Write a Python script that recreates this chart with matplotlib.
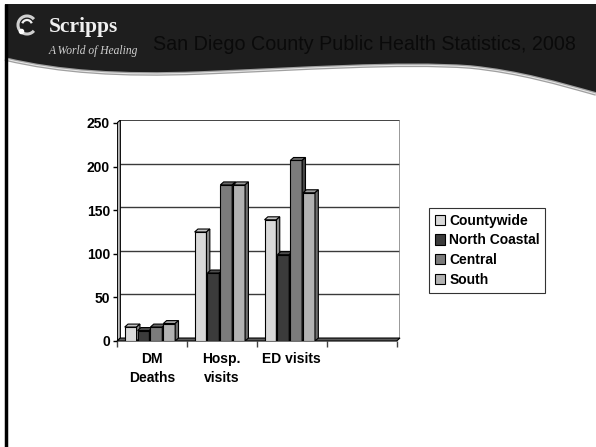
import matplotlib
matplotlib.use("Agg")
from matplotlib import pyplot as plt
from matplotlib.patches import Polygon, Patch, Arc, PathPatch
from matplotlib.path import Path

plt.rcParams['font.family'] = ['Liberation Sans', 'DejaVu Sans']

# data
categories = ["DM\nDeaths", "Hosp.\nvisits", "ED visits", ""]
regions = ["Countywide", "North Coastal", "Central", "South"]
countywide = [16, 125, 139]
north_coastal = [12, 78, 99]
central = [16, 179, 207]
south = [20, 179, 170]
series = [countywide, north_coastal, central, south]

front_cols = ["#d9d9d9", "#3b3b3b", "#7b7b7b", "#b2b2b2"]
top_cols = ["#c4c4c4", "#4e4e4e", "#6a6a6a", "#9e9e9e"]
side_cols = ["#8a8a8a", "#262626", "#474747", "#6e6e6e"]

W, H = 596, 447
fig = plt.figure(figsize=(W / 100, H / 100), dpi=100)
fig.patch.set_facecolor("white")

# ---- slide background / header in pixel coordinates
bg = fig.add_axes([0, 0, 1, 1])
bg.set_xlim(0, W)
bg.set_ylim(H, 0)
bg.axis("off")

verts = [(5, 4), (W, 4), (W, 94),
         (560, 84), (520, 72), (470, 67),
         (400, 62), (300, 69), (200, 73),
         (120, 76), (60, 72), (5, 59), (5, 4)]
codes = [Path.MOVETO, Path.LINETO, Path.LINETO,
         Path.CURVE4, Path.CURVE4, Path.CURVE4,
         Path.CURVE4, Path.CURVE4, Path.CURVE4,
         Path.CURVE4, Path.CURVE4, Path.CURVE4, Path.CLOSEPOLY]
bg.add_patch(PathPatch(Path(verts, codes), facecolor="#1e1e1e", edgecolor="none"))

edge_verts = [(5, 59), (60, 72), (120, 76), (200, 73),
              (300, 69), (400, 62), (470, 67),
              (520, 72), (560, 84), (W, 94)]
edge_codes = [Path.MOVETO] + [Path.CURVE4] * 9
bg.add_patch(PathPatch(Path(edge_verts, edge_codes), facecolor="none",
                       edgecolor="#a0a0a0", lw=2.6))
bg.add_patch(PathPatch(Path(edge_verts, edge_codes), facecolor="none",
                       edgecolor="#e6e6e6", lw=0.8))

# left frame
bg.plot([6, 6], [4, H], color="black", lw=2.5, solid_capstyle="butt")

# logo
bg.add_patch(Arc((27, 25), 18, 18, theta1=40, theta2=320, color="#d0d0d0", lw=2.2))
bg.add_patch(Arc((27, 25), 10, 10, theta1=200, theta2=340, color="#f0f0f0", lw=1.6))
bg.plot([21], [31], "o", color="white", ms=3)
bg.text(49, 32, "Scripps", color="#f0f0f0", fontsize=15.5, fontweight="bold",
        family=["Liberation Serif", "DejaVu Serif"], va="baseline")
bg.text(49, 51, "A World of Healing", color="#d0d0d0", fontsize=8.3,
        family=["Liberation Serif", "DejaVu Serif"], style="italic", va="center")

bg.text(153, 44, "San Diego County Public Health Statistics, 2008",
        color="#0a0a0a", fontsize=14.2, va="center")

# ---- 3D-style column chart
dx, dy = 0.048, 3.4
px_l, px_r, px_t, px_b = 117, 400, 120, 341
ax = fig.add_axes([px_l / W, 1 - px_b / H, (px_r - px_l) / W, (px_b - px_t) / H])
ax.set_xlim(0, len(categories) + dx)
ax.set_ylim(0, 250 + dy)
ax.set_facecolor("white")
for s in ax.spines.values():
    s.set_visible(False)

# back wall gridlines and border
for v in [50, 100, 150, 200]:
    ax.plot([dx, len(categories) + dx], [v + dy, v + dy], color="#3a3a3a", lw=1, zorder=1)
ax.plot([dx, len(categories) + dx], [250 + dy, 250 + dy], color="#222222", lw=1.2, zorder=1)
ax.plot([len(categories) + dx] * 2, [dy, 250 + dy], color="#888888", lw=1.2, zorder=1)

# left wall
ax.add_patch(Polygon([(0, 0), (dx, dy), (dx, 250 + dy), (0, 250)], closed=True,
                     facecolor="#bdbdbd", edgecolor="black", lw=0.8, zorder=2))
# floor
ax.add_patch(Polygon([(0, 0), (len(categories), 0), (len(categories) + dx, dy), (dx, dy)],
                     closed=True, facecolor="#5a5a5a", edgecolor="black", lw=0.8,
                     zorder=2, clip_on=False))

bw, step, off = 0.17, 0.184, 0.11
for ci in range(len(countywide)):
    for si, vals in enumerate(series):
        v = vals[ci]
        x0 = ci + off + si * step
        z = 3 + si
        ax.bar(x0, v, width=bw, align="edge", color=front_cols[si],
               edgecolor="black", lw=0.8, zorder=z)
        ax.add_patch(Polygon([(x0, v), (x0 + bw, v), (x0 + bw + dx, v + dy), (x0 + dx, v + dy)],
                             closed=True, facecolor=top_cols[si], edgecolor="black",
                             lw=0.8, zorder=z))
        ax.add_patch(Polygon([(x0 + bw, 0), (x0 + bw + dx, dy), (x0 + bw + dx, v + dy), (x0 + bw, v)],
                             closed=True, facecolor=side_cols[si], edgecolor="black",
                             lw=0.8, zorder=z))

ax.plot([0, 0], [0, 250], color="black", lw=1.2, zorder=10)

ax.set_yticks([0, 50, 100, 150, 200, 250])
ax.set_yticklabels(["0", "50", "100", "150", "200", "250"], fontsize=10, fontweight="bold")
ax.tick_params(axis="y", length=3, width=1, pad=2)

ax.set_xticks([i + 0.5 for i in range(len(categories))])
ax.set_xticklabels(categories, fontsize=10, fontweight="bold", linespacing=1.4)
ax.set_xticks(list(range(len(categories) + 1)), minor=True)
ax.tick_params(axis="x", which="major", length=0, pad=8)
ax.tick_params(axis="x", which="minor", length=4, width=1, color="#444444")

handles = [Patch(facecolor=c, edgecolor="black", lw=0.8) for c in front_cols]
leg = fig.legend(handles, regions, loc="upper left",
                 bbox_to_anchor=(429 / W, 1 - 208 / H),
                 prop={"weight": "bold", "size": 10}, frameon=True, fancybox=False,
                 edgecolor="black", borderpad=0.4, handlelength=0.75, handleheight=0.75,
                 handletextpad=0.3, labelspacing=0.42, borderaxespad=0)
leg.get_frame().set_linewidth(0.8)

fig.savefig("out.png", dpi=100, facecolor="white")
